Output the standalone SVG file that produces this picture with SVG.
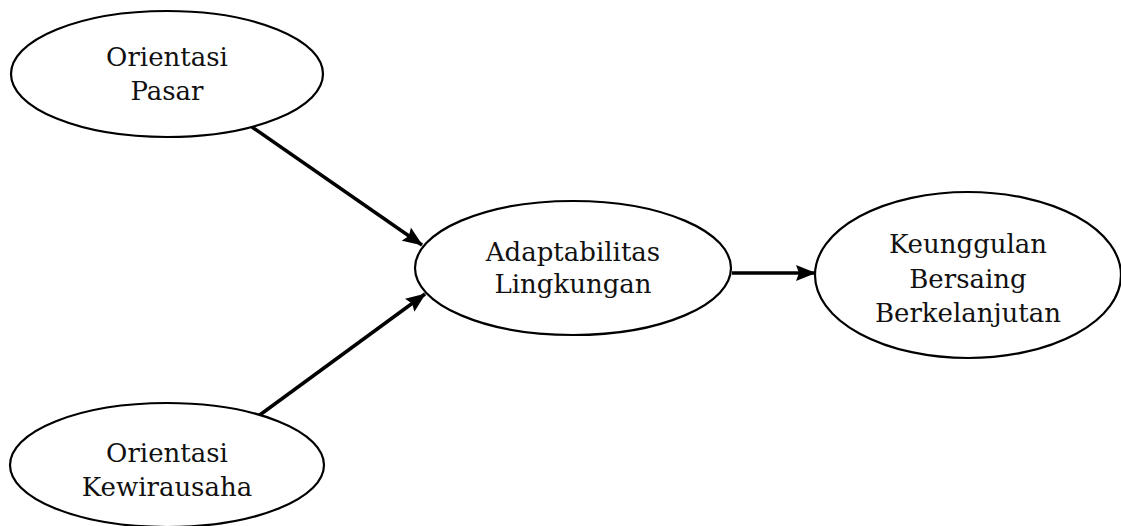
<svg xmlns="http://www.w3.org/2000/svg" width="1121" height="526" viewBox="0 0 1121 526">
<style>
.node ellipse{fill:#fff;stroke:#000;stroke-width:2.2}
.node text{font-family:"DejaVu Serif","Liberation Serif",serif;font-size:26px;fill:#111;text-anchor:middle}
.edge{stroke:#000;stroke-width:3.5;fill:none;marker-end:url(#ah)}
</style>
<defs>
<marker id="ah" markerUnits="userSpaceOnUse" markerWidth="20" markerHeight="16" refX="19" refY="8" orient="auto" viewBox="0 0 20 16">
<path d="M0,0 L20,8 L0,16 L3,8 z" fill="#000"/>
</marker>
</defs>
<rect width="1121" height="526" fill="#fff"/>
<g id="connectors">
<line class="edge" x1="252" y1="127" x2="422" y2="245"/>
<line class="edge" x1="257" y1="417" x2="425" y2="294"/>
<line class="edge" x1="732" y1="273" x2="815" y2="273"/>
</g>
<g id="orientasi-pasar" class="node">
<ellipse cx="167" cy="74" rx="156" ry="63"/>
<text x="167" y="66">Orientasi</text>
<text x="167" y="100">Pasar</text>
</g>
<g id="orientasi-kewirausaha" class="node">
<ellipse cx="167" cy="465" rx="157" ry="62"/>
<text x="167" y="462">Orientasi</text>
<text x="167" y="496">Kewirausaha</text>
</g>
<g id="adaptabilitas-lingkungan" class="node">
<ellipse cx="573" cy="268" rx="158" ry="67"/>
<text x="573" y="261">Adaptabilitas</text>
<text x="573" y="293">Lingkungan</text>
</g>
<g id="keunggulan-bersaing" class="node">
<ellipse cx="968" cy="275" rx="153" ry="83"/>
<text x="968" y="253">Keunggulan</text>
<text x="968" y="288">Bersaing</text>
<text x="968" y="322">Berkelanjutan</text>
</g>
</svg>
